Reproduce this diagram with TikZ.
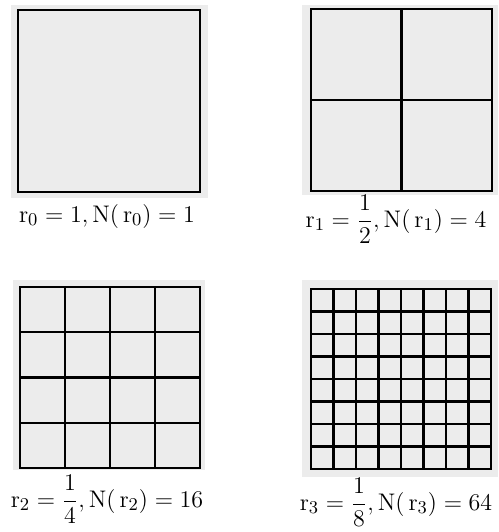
\documentclass[tikz,border=0pt]{standalone}
\usepackage{amsmath}
\definecolor{paper}{RGB}{236,236,236}
\tikzset{
  backdrop/.style={fill=paper},
  frame/.style={draw=black, line width=1.2pt},
  rlabel/.style={anchor=base, inner sep=0pt, font=\fontsize{12.5}{15}\selectfont}
}
\begin{document}
\begin{tikzpicture}[x=0.5pt, y=-0.5pt]
	\useasboundingbox (0,0) rectangle (499,532);
	% r_0 : one square
	\fill[backdrop] (11,5) rectangle (208,198);
	\draw[frame] (18,10) rectangle (200,192);
	\node[rlabel] (l0) at (107,222) {$\mathrm{r}_0=1,\mathrm{N}(\,\mathrm{r}_0)=1$};
	% r_1 : 2 x 2
	\fill[backdrop] (302,5) rectangle (498,195);
	\draw[frame] (311,9) rectangle (492,191);
	\draw[frame] (401.5,9) -- (401.5,191);
	\draw[frame] (311,100) -- (492,100);
	\node[rlabel] (l1) at (396,227) {$\mathrm{r}_1=\dfrac{1}{2},\mathrm{N}(\,\mathrm{r}_1)=4$};
	% r_2 : 4 x 4
	\fill[backdrop] (13,280) rectangle (205,470);
	\draw[frame] (20,287) rectangle (200,468);
	\foreach \i in {1,2,3} {
		\draw[frame] (20+45*\i,287) -- (20+45*\i,468);
		\draw[frame] (20,287+45.25*\i) -- (200,287+45.25*\i);
	}
	\node[rlabel] (l2) at (107,507) {$\mathrm{r}_2=\dfrac{1}{4},\mathrm{N}(\,\mathrm{r}_2)=16$};
	% r_3 : 8 x 8
	\fill[backdrop] (302,280) rectangle (498,477);
	\draw[frame] (311,289) rectangle (491,469);
	\foreach \i in {1,...,7} {
		\draw[frame] (311+22.5*\i,289) -- (311+22.5*\i,469);
		\draw[frame] (311,289+22.5*\i) -- (491,289+22.5*\i);
	}
	\node[rlabel] (l3) at (396,510) {$\mathrm{r}_3=\dfrac{1}{8},\mathrm{N}(\,\mathrm{r}_3)=64$};
\end{tikzpicture}
\end{document}
